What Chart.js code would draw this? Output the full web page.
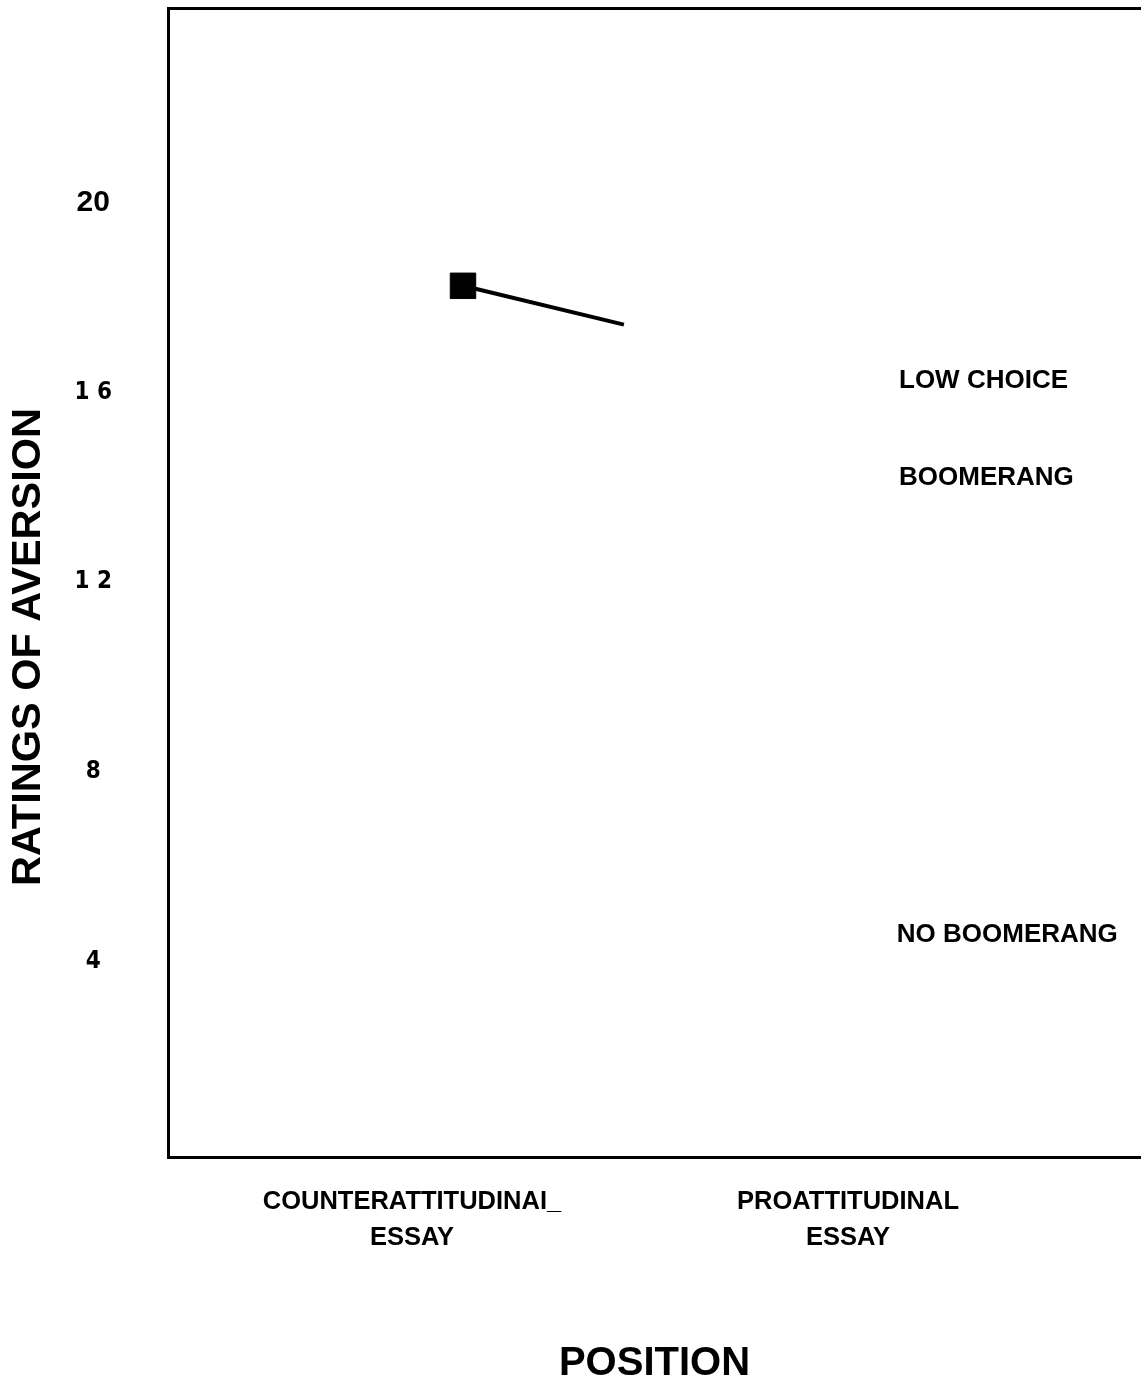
<!DOCTYPE html>
<html>
<head>
<meta charset="utf-8">
<script src="https://cdn.jsdelivr.net/npm/chart.js@4/dist/chart.umd.min.js"></script>
<style>
  html, body { margin: 0; padding: 0; background: #ffffff; overflow: hidden; }
  canvas { display: block; }
</style>
</head>
<body>
<canvas id="c" width="1141" height="1384"></canvas>
<script>
// ---- data ----
const categories = [["COUNTERATTITUDINAI_", "ESSAY"], ["PROATTITUDINAL", "ESSAY"]];
const categoryPositions = [1, 2];
const yTickValues = [4, 8, 12, 16, 20];
const yTickLabels = ["4", "8", "1 2", "1 6", "20"];
const seriesX = [1.117, 1.486];
const seriesY = [18.25, 17.43];
const annotationTexts = ["LOW CHOICE", "BOOMERANG", "NO BOOMERANG"];
const annotationX = [2.117, 2.117, 2.112];
const annotationY = [16.24, 14.2, 4.56];
const yTitle = "RATINGS OF AVERSION";
const xTitle = "POSITION";

const textPlugin = {
  id: 'texts',
  afterDraw(chart) {
    const ctx = chart.ctx;
    const xs = chart.scales.x, ys = chart.scales.y;
    ctx.save();
    ctx.fillStyle = '#000';
    ctx.font = 'bold 26px "Liberation Sans", Arial, sans-serif';
    ctx.textAlign = 'left';
    ctx.textBaseline = 'middle';
    annotationTexts.forEach((t, i) => {
      ctx.fillText(t, xs.getPixelForValue(annotationX[i]), ys.getPixelForValue(annotationY[i]));
    });
    // y axis title
    ctx.translate(29, 647);
    ctx.rotate(-Math.PI / 2);
    ctx.textAlign = 'center';
    ctx.font = 'bold 41.5px "Liberation Sans", Arial, sans-serif';
    ctx.fillText(yTitle, 0, 0);
    ctx.restore();
  }
};

new Chart(document.getElementById('c'), {
  type: 'line',
  data: {
    datasets: [{
      data: seriesX.map((x, i) => ({ x: x, y: seriesY[i] })),
      borderColor: '#000',
      borderWidth: 4,
      backgroundColor: '#000',
      pointStyle: 'rect',
      pointRadius: ctx => ctx.dataIndex === 0 ? 18 : 0,
      pointBackgroundColor: '#000',
      pointBorderColor: '#000',
      pointBorderWidth: 1,
      tension: 0,
      fill: false,
      clip: false
    }]
  },
  options: {
    responsive: false,
    animation: false,
    events: [],
    layout: { padding: 0, autoPadding: false },
    plugins: { legend: { display: false }, tooltip: { enabled: false }, title: { display: false } },
    scales: {
      x: {
        type: 'linear',
        position: 'bottom',
        min: 0.4404,
        max: 2.672,
        grid: { display: false, drawTicks: false },
        border: { display: true, color: '#000', width: 3 },
        afterBuildTicks: s => { s.ticks = categoryPositions.map(v => ({ value: v })); },
        afterFit: s => { s.height = 227; s.paddingLeft = 0; s.paddingRight = 0; },
        ticks: {
          autoSkip: false,
          maxRotation: 0,
          padding: 27,
          color: '#000',
          font: { family: '"Liberation Sans", Arial, sans-serif', size: 25.5, weight: 'bold', lineHeight: 1.41 },
          callback: (v, i) => categories[i]
        },
        title: {
          display: true,
          text: xTitle,
          color: '#000',
          font: { family: '"Liberation Sans", Arial, sans-serif', size: 40, weight: 'bold', lineHeight: 1 },
          padding: { top: 0, bottom: 0 }
        }
      },
      x2: {
        type: 'linear',
        position: 'top',
        display: true,
        grid: { display: false, drawTicks: false },
        border: { display: true, color: '#000', width: 3 },
        ticks: { display: false },
        afterFit: s => { s.height = 8; s.paddingLeft = 0; s.paddingRight = 0; }
      },
      y: {
        type: 'linear',
        position: 'left',
        min: -0.127,
        max: 24.11,
        grid: { display: false, drawTicks: false },
        border: { display: true, color: '#000', width: 3 },
        afterBuildTicks: s => { s.ticks = yTickValues.map(v => ({ value: v })); },
        afterFit: s => { s.width = 168; s.paddingTop = 0; s.paddingBottom = 0; },
        ticks: {
          padding: 56,
          crossAlign: 'center',
          color: '#000',
          font: ctx => ctx.index === 4
            ? { family: '"Liberation Sans", Arial, sans-serif', size: 30, weight: 'bold' }
            : { family: '"Liberation Sans Narrow", "DejaVu Sans Condensed", Arial, sans-serif', size: 24, weight: 'bold' },
          callback: (v, i) => yTickLabels[i]
        }
      }
    }
  },
  plugins: [textPlugin]
});
</script>
</body>
</html>
